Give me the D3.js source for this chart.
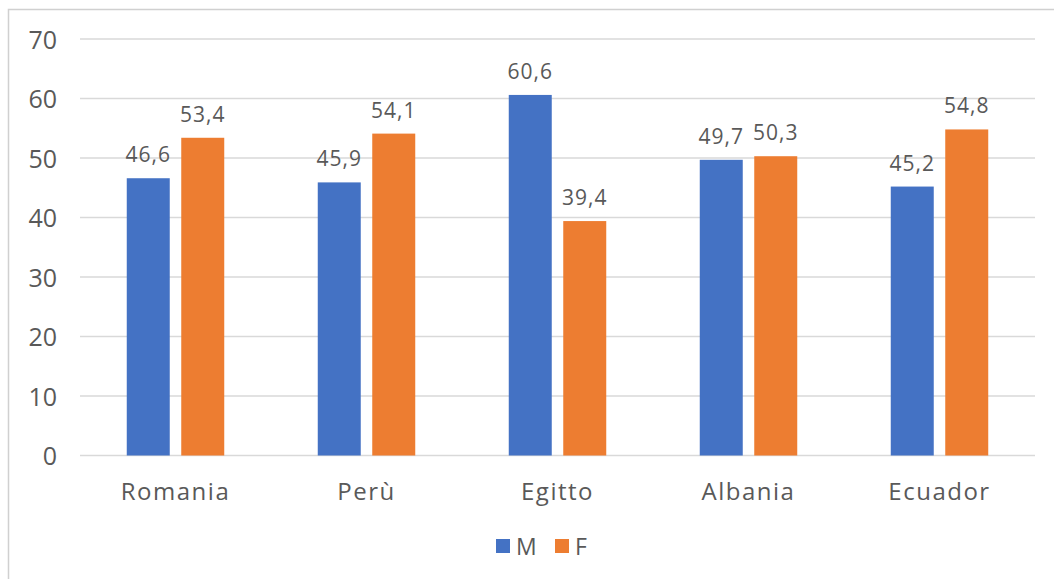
<!DOCTYPE html>
<html>
<head>
<meta charset="utf-8">
<script src="https://cdn.jsdelivr.net/npm/d3@7"></script>
<style>
  html, body { margin: 0; padding: 0; background: #fff; }
  svg { display: block; }
  text { font-family: "Open Sans", "Noto Sans", sans-serif; fill: #595959; }
</style>
</head>
<body>
<svg id="chart" width="1054" height="579"></svg>
<script>
// Country of origin, share by sex (%)
const categories = ["Romania", "Perù", "Egitto", "Albania", "Ecuador"];
const seriesNames = ["M", "F"];
const valuesM = [46.6, 45.9, 60.6, 49.7, 45.2];
const valuesF = [53.4, 54.1, 39.4, 50.3, 54.8];
const yTicks = [0, 10, 20, 30, 40, 50, 60, 70];
const colors = ["#4472C4", "#ED7D31"];

const svg = d3.select("#chart");
const W = 1054, H = 579;

// outer frame of the chart area
svg.append("rect")
  .attr("x", 8.5).attr("y", 9.5)
  .attr("width", W + 10).attr("height", H + 10)
  .attr("fill", "none").attr("stroke", "#d0d0d0").attr("stroke-width", 1.5);

const plot = { left: 80, right: 1035, top: 39, bottom: 455.5 };

const x0 = d3.scaleBand().domain(categories).range([plot.left, plot.right]).paddingInner(0).paddingOuter(0);
const x1 = d3.scaleBand().domain(seriesNames).range([0, x0.bandwidth()]).paddingInner(0.211).paddingOuter(0.858);
const y = d3.scaleLinear().domain([0, 70]).range([plot.bottom, plot.top]);

// grid lines
svg.append("g").selectAll("line").data(yTicks).join("line")
  .attr("x1", plot.left).attr("x2", plot.right)
  .attr("y1", d => y(d)).attr("y2", d => y(d))
  .attr("stroke", "#d9d9d9").attr("stroke-width", 1.5);

// y axis labels
const yAxis = d3.axisLeft(y).tickValues(yTicks).tickSize(0).tickPadding(0);
const gy = svg.append("g").attr("transform", `translate(57,0)`).call(yAxis);
gy.select(".domain").remove();
gy.selectAll("text")
  .style("font-size", "25px").style("font-family", "'Open Sans', sans-serif")
  .attr("fill", "#595959").attr("dy", "0.36em");

const rows = categories.map((c, i) => ({ cat: c, vals: [valuesM[i], valuesF[i]] }));

const groups = svg.append("g").selectAll("g").data(rows).join("g")
  .attr("transform", d => `translate(${x0(d.cat)},0)`);

groups.selectAll("rect").data(d => d.vals.map((v, j) => ({ key: seriesNames[j], v, j })))
  .join("rect")
  .attr("x", d => x1(d.key))
  .attr("width", x1.bandwidth())
  .attr("y", d => y(d.v))
  .attr("height", d => y(0) - y(d.v))
  .attr("fill", d => colors[d.j]);

groups.selectAll("text.val").data(d => d.vals.map((v, j) => ({ key: seriesNames[j], v, j })))
  .join("text").attr("class", "val")
  .attr("x", d => x1(d.key) + x1.bandwidth() / 2)
  .attr("y", d => y(d.v) - 16)
  .attr("text-anchor", "middle")
  .style("font-size", "21px")
  .style("letter-spacing", "1px")
  .text(d => d.v.toFixed(1).replace(".", ","));

// category labels
const xAxis = d3.axisBottom(x0).tickSize(0).tickPadding(0);
const gx = svg.append("g").attr("transform", `translate(0,${plot.bottom})`).call(xAxis);
gx.select(".domain").remove();
gx.selectAll("text")
  .style("font-size", "24px").style("font-family", "'Open Sans', sans-serif")
  .style("letter-spacing", "1.5px")
  .attr("fill", "#595959").attr("dy", "0").attr("y", 44.5);

// legend
const legend = svg.append("g").attr("transform", "translate(496,539)");
const legX = [0, 59];
seriesNames.forEach((s, i) => {
  legend.append("rect").attr("x", legX[i]).attr("y", 0).attr("width", 14).attr("height", 14).attr("fill", colors[i]);
  legend.append("text").attr("x", legX[i] + 20).attr("y", 16).style("font-size", "23px").text(s);
});
</script>
</body>
</html>
